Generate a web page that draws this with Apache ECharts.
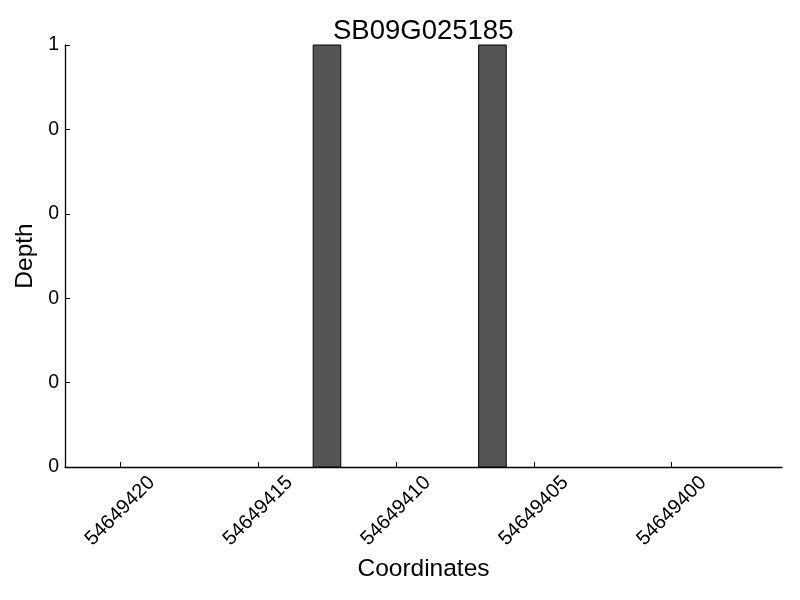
<!DOCTYPE html>
<html><head><meta charset="utf-8">
<script src="https://cdn.jsdelivr.net/npm/echarts@6/dist/echarts.min.js"></script>
<style>html,body{margin:0;padding:0;background:#fff}#c{width:800px;height:600px}</style>
</head><body><div id="c"></div>
<script>
const chartTitle = 'SB09G025185';
const barStarts = [54649412, 54649406];   // genomic coordinate of each bar
const barWidthUnits = 1;
const depths = [1, 1];
const xTickValues = [54649420, 54649415, 54649410, 54649405, 54649400];
const yTickValues = [0, 0.2, 0.4, 0.6, 0.8, 1];
const xMin = 54649396, xMax = 54649422;

const FONT = 'Liberation Sans';
const chart = echarts.init(document.getElementById('c'), null, {renderer: 'canvas'});
const data = barStarts.map((s, i) => [s, s + barWidthUnits, depths[i]]);
chart.setOption({
  animation: false,
  backgroundColor: '#fff',
  title: {text: chartTitle, left: 328, top: 12,
    textStyle: {fontFamily: FONT, fontSize: 27.5, fontWeight: 'normal', color: '#000'}},
  grid: {left: 65, right: 18, top: 45, bottom: 133},
  xAxis: {type: 'value', inverse: true, min: xMin, max: xMax,
    name: 'Coordinates', nameLocation: 'middle', nameGap: 88,
    nameTextStyle: {fontFamily: FONT, fontSize: 24.5, color: '#000'},
    axisLine: {show: true, lineStyle: {color: '#000', width: 1.3}},
    axisTick: {show: true, inside: true, length: 5, customValues: xTickValues, lineStyle: {color: '#000'}},
    axisLabel: {customValues: xTickValues, rotate: 45, align: 'center', verticalAlign: 'middle', margin: 44,
      fontFamily: FONT, fontSize: 20, color: '#000', formatter: v => String(v)},
    splitLine: {show: false}},
  yAxis: {type: 'value', min: 0, max: 1,
    name: 'Depth', nameLocation: 'middle', nameGap: 26,
    nameTextStyle: {fontFamily: FONT, fontSize: 24.5, color: '#000'},
    axisLine: {show: true, lineStyle: {color: '#000', width: 1.3}},
    axisTick: {show: true, inside: true, length: 5, customValues: yTickValues, lineStyle: {color: '#000'}},
    axisLabel: {customValues: yTickValues, margin: 6, fontFamily: FONT, fontSize: 19.5, color: '#000',
      formatter: v => String(Math.floor(v + 1e-9))},
    splitLine: {show: false}},
  series: [{
    type: 'custom',
    data: data,
    encode: {x: [0, 1], y: 2},
    renderItem: function (params, api) {
      const p0 = api.coord([api.value(0), api.value(2)]);
      const p1 = api.coord([api.value(1), 0]);
      const x = Math.min(p0[0], p1[0]);
      return {type: 'rect',
        shape: {x: x, y: p0[1], width: Math.abs(p1[0] - p0[0]), height: p1[1] - p0[1]},
        style: {fill: '#555555', stroke: '#000', lineWidth: 1}};
    }
  }]
});
</script></body></html>
